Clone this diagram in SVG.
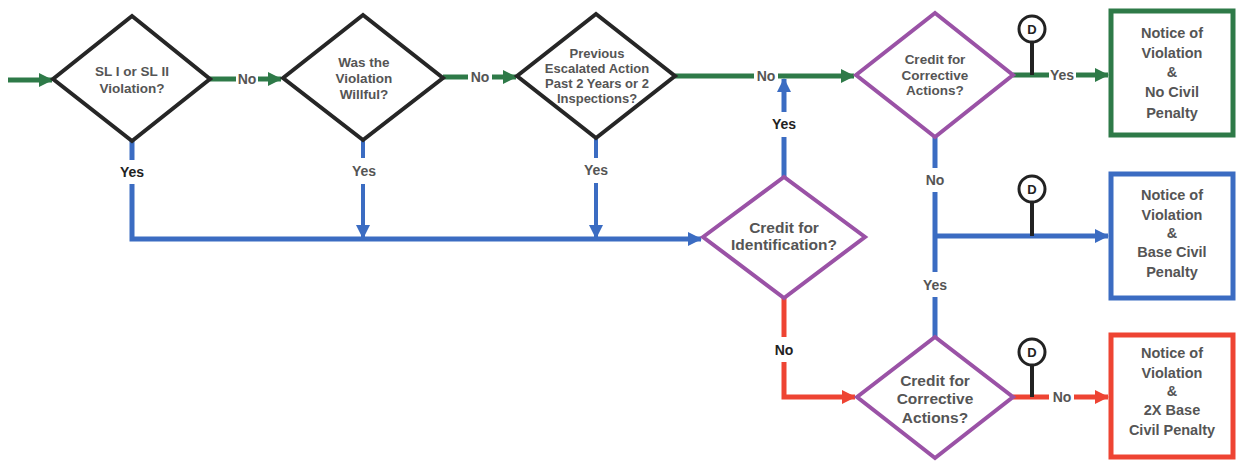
<svg xmlns="http://www.w3.org/2000/svg" width="1241" height="461" viewBox="0 0 1241 461">
<style>
text{font-family:"Liberation Sans",Arial,sans-serif;font-weight:bold;text-anchor:middle;fill:#555}
.dk{fill:#222}
.lbl{font-size:14px}
.dia{fill:#fff;stroke-width:4;stroke-linejoin:miter}
.blk{stroke:#262626}
.pur{stroke:#9A52A6}
.g{stroke:#2E7A48;stroke-width:5;fill:none}
.b{stroke:#3B6CC2;stroke-width:5;fill:none}
.bt{stroke:#3B6CC2;stroke-width:4;fill:none}
.r{stroke:#EE4433;stroke-width:5;fill:none}
.stem{stroke:#222;stroke-width:4}
.dc{fill:#fff;stroke:#222;stroke-width:3}
.box{fill:#fff;stroke-width:5}
</style>
<defs>
<marker id="ag" markerUnits="userSpaceOnUse" markerWidth="14" markerHeight="14" refX="13" refY="7" orient="auto"><path d="M0,0 L14,7 L0,14 z" fill="#2E7A48"/></marker>
<marker id="ab" markerUnits="userSpaceOnUse" markerWidth="14" markerHeight="14" refX="13" refY="7" orient="auto"><path d="M0,0 L14,7 L0,14 z" fill="#3B6CC2"/></marker>
<marker id="ar" markerUnits="userSpaceOnUse" markerWidth="14" markerHeight="14" refX="13" refY="7" orient="auto"><path d="M0,0 L14,7 L0,14 z" fill="#EE4433"/></marker>
</defs>

<g id="connectors">
<!-- green -->
<path class="g" d="M8,80 H52" marker-end="url(#ag)"/>
<path class="g" d="M210,79 H236"/>
<path class="g" d="M258,79 H281" marker-end="url(#ag)"/>
<path class="g" d="M443,77 H468"/>
<path class="g" d="M492,77 H516" marker-end="url(#ag)"/>
<path class="g" d="M675,76 H754"/>
<path class="g" d="M778,76 H854" marker-end="url(#ag)"/>
<path class="g" d="M1013,75 H1049"/>
<path class="g" d="M1076,75 H1108" marker-end="url(#ag)"/>
<!-- blue -->
<path class="b" d="M132,141 V160"/>
<path class="b" d="M132,184 V239 H701" marker-end="url(#ab)"/>
<path class="bt" d="M363,140 V158"/>
<path class="bt" d="M363,184 V238" marker-end="url(#ab)"/>
<path class="bt" d="M596,138 V158"/>
<path class="bt" d="M596,183 V238" marker-end="url(#ab)"/>
<path class="b" d="M784,177 V137"/>
<path class="b" d="M784,112 V79" marker-end="url(#ab)"/>
<path class="b" d="M935,137 V168"/>
<path class="b" d="M935,192 V272"/>
<path class="b" d="M935,297 V337"/>
<path class="b" d="M935,236 H1108" marker-end="url(#ab)"/>
<!-- red -->
<path class="r" d="M784,298 V337"/>
<path class="r" d="M784,362 V397 H855" marker-end="url(#ar)"/>
<path class="r" d="M1013,397 H1049"/>
<path class="r" d="M1074,397 H1108" marker-end="url(#ar)"/>
<!-- labels -->
<text class="lbl" x="247" y="84">No</text>
<text class="lbl" x="480" y="82">No</text>
<text class="lbl" x="766" y="81">No</text>
<text class="lbl" x="1062" y="80">Yes</text>
<text class="lbl dk" x="132" y="177">Yes</text>
<text class="lbl" x="364" y="176">Yes</text>
<text class="lbl" x="596" y="175">Yes</text>
<text class="lbl dk" x="784" y="129">Yes</text>
<text class="lbl" x="935" y="185">No</text>
<text class="lbl" x="935" y="290">Yes</text>
<text class="lbl dk" x="784" y="355">No</text>
<text class="lbl" x="1062" y="402">No</text>
</g>

<g id="d1">
<polygon class="dia blk" points="53,79 132,16 210,79 132,141"/>
<text font-size="13.5" x="132" y="76">SL I or SL II</text>
<text font-size="13.5" x="132" y="93">Violation?</text>
</g>
<g id="d2">
<polygon class="dia blk" points="283,78 363,15 443,78 363,140"/>
<text font-size="13.5" x="364" y="67">Was the</text>
<text font-size="13.5" x="364" y="83">Violation</text>
<text font-size="13.5" x="364" y="99">Willful?</text>
</g>
<g id="d3">
<polygon class="dia blk" points="517,76 596,14 675,76 596,138"/>
<text font-size="13" x="597" y="58">Previous</text>
<text font-size="13" x="597" y="73">Escalated Action</text>
<text font-size="13" x="597" y="88">Past 2 Years or 2</text>
<text font-size="13" x="597" y="103">Inspections?</text>
</g>
<g id="d4">
<polygon class="dia pur" points="856,75 935,13 1013,75 935,137"/>
<text font-size="13.5" x="935" y="64">Credit for</text>
<text font-size="13.5" x="935" y="80">Corrective</text>
<text font-size="13.5" x="935" y="95">Actions?</text>
</g>
<g id="d5">
<polygon class="dia pur" points="703,237 784,177 865,237 784,298"/>
<text font-size="15.5" x="784" y="233">Credit for</text>
<text font-size="15.5" x="784" y="250">Identification?</text>
</g>
<g id="d6">
<polygon class="dia pur" points="857,397 935,337 1013,397 935,458"/>
<text font-size="15.5" x="935" y="386">Credit for</text>
<text font-size="15.5" x="935" y="404">Corrective</text>
<text font-size="15.5" x="935" y="423">Actions?</text>
</g>

<g id="dmark1">
<line class="stem" x1="1032" y1="42" x2="1032" y2="75"/>
<circle class="dc" cx="1032" cy="29" r="13"/>
<text font-size="13" class="dk" x="1032" y="34">D</text>
</g>
<g id="dmark2">
<line class="stem" x1="1032" y1="202" x2="1032" y2="236"/>
<circle class="dc" cx="1032" cy="189" r="13"/>
<text font-size="13" class="dk" x="1032" y="194">D</text>
</g>
<g id="dmark3">
<line class="stem" x1="1032" y1="365" x2="1032" y2="397"/>
<circle class="dc" cx="1032" cy="352" r="13"/>
<text font-size="13" class="dk" x="1032" y="357">D</text>
</g>

<g id="box1">
<rect class="box" x="1111" y="11" width="122" height="124" stroke="#2E7A48"/>
<text font-size="14.5" x="1172" y="38">Notice of</text>
<text font-size="14.5" x="1172" y="58">Violation</text>
<text font-size="14.5" x="1172" y="77">&amp;</text>
<text font-size="14.5" x="1172" y="97">No Civil</text>
<text font-size="14.5" x="1172" y="118">Penalty</text>
</g>
<g id="box2">
<rect class="box" x="1111" y="174" width="122" height="124" stroke="#3B6CC2"/>
<text font-size="14.5" x="1172" y="200">Notice of</text>
<text font-size="14.5" x="1172" y="220">Violation</text>
<text font-size="14.5" x="1172" y="238">&amp;</text>
<text font-size="14.5" x="1172" y="257">Base Civil</text>
<text font-size="14.5" x="1172" y="277">Penalty</text>
</g>
<g id="box3">
<rect class="box" x="1111" y="335" width="122" height="122" stroke="#EE4433"/>
<text font-size="14.5" x="1172" y="358">Notice of</text>
<text font-size="14.5" x="1172" y="378">Violation</text>
<text font-size="14.5" x="1172" y="396">&amp;</text>
<text font-size="14.5" x="1172" y="415">2X Base</text>
<text font-size="14.5" x="1172" y="435">Civil Penalty</text>
</g>
</svg>
